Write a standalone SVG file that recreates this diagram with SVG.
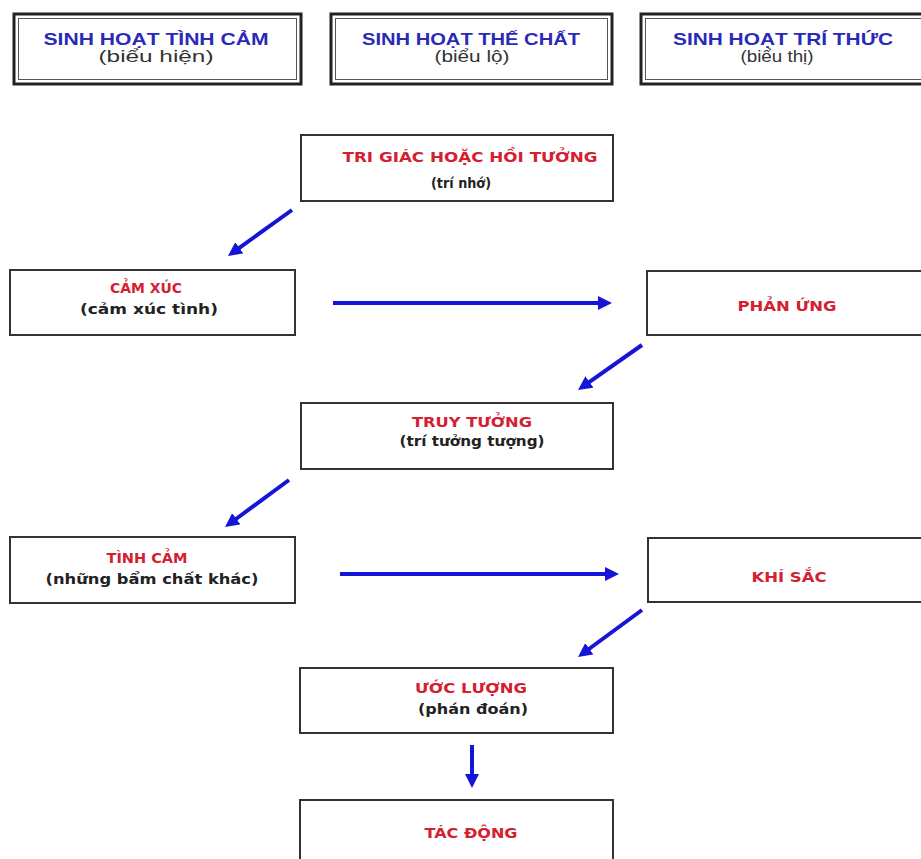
<svg xmlns="http://www.w3.org/2000/svg" width="921" height="859" viewBox="0 0 921 859">
<style>
.bg{fill:#ffffff}
.hdr-out{fill:#ffffff;stroke:#222;stroke-width:3}
.hdr-in{fill:none;stroke:#555;stroke-width:1}
.box{fill:#ffffff;stroke:#333;stroke-width:2}
.ht{font-family:"Liberation Sans",Arial,sans-serif;font-size:17px;fill:#2a2ab8;text-anchor:middle;font-weight:bold}
.hs{font-family:"Liberation Sans",Arial,sans-serif;font-size:16px;fill:#333;text-anchor:middle}
.rt{font-family:"DejaVu Sans",Verdana,sans-serif;font-size:14px;font-weight:bold;fill:#d42030;text-anchor:middle}
.st{font-family:"DejaVu Sans",Verdana,sans-serif;font-size:14px;font-weight:bold;fill:#222;text-anchor:middle}
.arr{stroke:#1515d8;stroke-width:4;fill:none;marker-end:url(#ah)}
</style>
<defs>
<marker id="ah" markerUnits="userSpaceOnUse" markerWidth="15" markerHeight="14" refX="3" refY="7" orient="auto">
<path d="M0,0 L14,7 L0,14 z" fill="#1515d8"/>
</marker>
</defs>
<rect class="bg" x="0" y="0" width="921" height="859"/>

<g id="hdr1">
<rect class="hdr-out" x="14" y="14" width="287" height="70"/>
<rect class="hdr-in" x="18.5" y="18.5" width="278" height="61"/>
<text class="ht" x="156" y="45" textLength="225" lengthAdjust="spacingAndGlyphs">SINH HOẠT TÌNH CẢM</text>
<text class="hs" x="156" y="62" textLength="115" lengthAdjust="spacingAndGlyphs">(biểu hiện)</text>
</g>
<g id="hdr2">
<rect class="hdr-out" x="331" y="14" width="281" height="70"/>
<rect class="hdr-in" x="335.5" y="18.5" width="272" height="61"/>
<text class="ht" x="471" y="45" textLength="218" lengthAdjust="spacingAndGlyphs">SINH HOẠT THẾ CHẤT</text>
<text class="hs" x="472" y="62" textLength="75" lengthAdjust="spacingAndGlyphs">(biểu lộ)</text>
</g>
<g id="hdr3">
<rect class="hdr-out" x="641" y="14" width="290" height="70"/>
<rect class="hdr-in" x="645.5" y="18.5" width="290" height="61"/>
<text class="ht" x="783" y="45" textLength="220" lengthAdjust="spacingAndGlyphs">SINH HOẠT TRÍ THỨC</text>
<text class="hs" x="777" y="62" textLength="73" lengthAdjust="spacingAndGlyphs">(biểu thị)</text>
</g>

<g id="n-trigiac">
<rect class="box" x="301" y="135" width="312" height="66"/>
<text class="rt" x="470" y="162" textLength="255" lengthAdjust="spacingAndGlyphs">TRI GIÁC HOẶC HỒI TƯỞNG</text>
<text class="st" x="461" y="188" textLength="60" lengthAdjust="spacingAndGlyphs">(trí nhớ)</text>
</g>
<g id="n-camxuc">
<rect class="box" x="10" y="270" width="285" height="65"/>
<text class="rt" x="146" y="293" textLength="72" lengthAdjust="spacingAndGlyphs">CẢM XÚC</text>
<text class="st" x="149" y="314" textLength="138" lengthAdjust="spacingAndGlyphs">(cảm xúc tình)</text>
</g>
<g id="n-phanung">
<rect class="box" x="647" y="271" width="284" height="64"/>
<text class="rt" x="787" y="311" textLength="99" lengthAdjust="spacingAndGlyphs">PHẢN ỨNG</text>
</g>
<g id="n-truytuong">
<rect class="box" x="301" y="403" width="312" height="66"/>
<text class="rt" x="472" y="427" textLength="120" lengthAdjust="spacingAndGlyphs">TRUY TƯỞNG</text>
<text class="st" x="472" y="446" textLength="145" lengthAdjust="spacingAndGlyphs">(trí tưởng tượng)</text>
</g>
<g id="n-tinhcam">
<rect class="box" x="10" y="537" width="285" height="66"/>
<text class="rt" x="147" y="563" textLength="81" lengthAdjust="spacingAndGlyphs">TÌNH CẢM</text>
<text class="st" x="152" y="584" textLength="213" lengthAdjust="spacingAndGlyphs">(những bẩm chất khác)</text>
</g>
<g id="n-khisac">
<rect class="box" x="648" y="538" width="283" height="64"/>
<text class="rt" x="789" y="582" textLength="75" lengthAdjust="spacingAndGlyphs">KHÍ SẮC</text>
</g>
<g id="n-uocluong">
<rect class="box" x="300" y="668" width="313" height="65"/>
<text class="rt" x="471" y="693" textLength="112" lengthAdjust="spacingAndGlyphs">ƯỚC LƯỢNG</text>
<text class="st" x="473" y="714" textLength="110" lengthAdjust="spacingAndGlyphs">(phán đoán)</text>
</g>
<g id="n-tacdong">
<rect class="box" x="300" y="800" width="313" height="80"/>
<text class="rt" x="471" y="838" textLength="93" lengthAdjust="spacingAndGlyphs">TÁC ĐỘNG</text>
</g>

<g id="connectors">
<line class="arr" x1="292" y1="210" x2="236.9" y2="249.6"/>
<line class="arr" x1="333" y1="303" x2="601" y2="303"/>
<line class="arr" x1="642" y1="345" x2="587" y2="383.7"/>
<line class="arr" x1="289" y1="480" x2="233.9" y2="520.5"/>
<line class="arr" x1="340" y1="574" x2="608" y2="574"/>
<line class="arr" x1="642" y1="610" x2="586.9" y2="650.5"/>
<line class="arr" x1="472" y1="745" x2="472" y2="777"/>
</g>
</svg>
